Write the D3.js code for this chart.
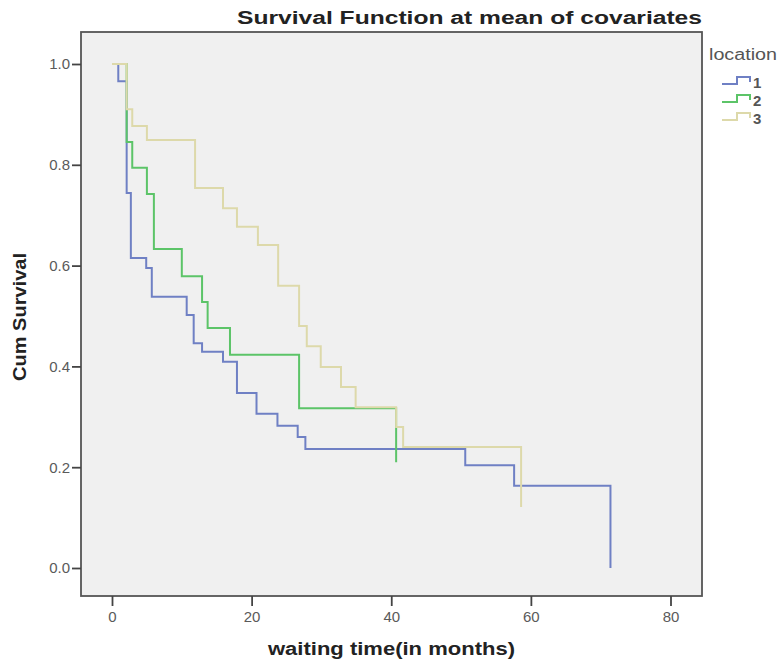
<!DOCTYPE html>
<html>
<head>
<meta charset="utf-8">
<script src="https://cdn.jsdelivr.net/npm/d3@7"></script>
<style>
  html, body { margin: 0; padding: 0; background: #ffffff; }
  svg { display: block; font-family: Arial, "Liberation Sans", sans-serif; }
</style>
</head>
<body>
<svg id="chart" width="779" height="664"></svg>
<script>
// Kaplan–Meier style survival steps per location group (time in months, cumulative survival)
const groups = ["1", "2", "3"];
const time1 = [0, 0.9, 2.1, 2.7, 4.9, 5.7, 10.7, 11.7, 12.9, 15.9, 17.9, 20.7, 23.7, 26.6, 27.7, 50.6, 57.6, 71.4];
const surv1 = [1, 0.966, 0.744, 0.615, 0.595, 0.538, 0.502, 0.446, 0.429, 0.409, 0.347, 0.306, 0.282, 0.26, 0.236, 0.204, 0.163, 0];
const time2 = [0, 2.1, 2.9, 5.0, 6.0, 10.0, 12.9, 13.7, 16.9, 26.8, 40.7];
const surv2 = [1, 0.845, 0.794, 0.742, 0.633, 0.579, 0.528, 0.476, 0.423, 0.317, 0.21];
const time3 = [0, 2.1, 2.9, 5.0, 11.9, 15.9, 17.9, 20.9, 23.8, 26.8, 27.9, 29.9, 32.8, 34.9, 40.7, 41.7, 58.6];
const surv3 = [1, 0.91, 0.877, 0.849, 0.754, 0.714, 0.677, 0.641, 0.56, 0.48, 0.44, 0.399, 0.359, 0.319, 0.28, 0.24, 0.121];
const xTicks = [0, 20, 40, 60, 80];
const yTicks = [0, 0.2, 0.4, 0.6, 0.8, 1.0];
const colors = ["#6f80c4", "#5cc468", "#ddd9aa"];

const series = [
  { name: groups[0], t: time1, s: surv1 },
  { name: groups[1], t: time2, s: surv2 },
  { name: groups[2], t: time3, s: surv3 }
];

const svg = d3.select("#chart");
const frame = { left: 81, right: 702, top: 32, bottom: 596 };

const x = d3.scaleLinear().domain([0, 80]).range([112, 670.5]);
const y = d3.scaleLinear().domain([0, 1]).range([568, 64]);

// plot background and frame
svg.append("rect")
  .attr("x", frame.left).attr("y", frame.top)
  .attr("width", frame.right - frame.left).attr("height", frame.bottom - frame.top)
  .attr("fill", "#f0f0f0").attr("stroke", "#555").attr("stroke-width", 1.8);

// axes
const yAxis = d3.axisLeft(y).tickValues(yTicks).tickFormat(d3.format(".1f")).tickSize(9).tickPadding(2);
const gy = svg.append("g").attr("transform", `translate(${frame.left},0)`).call(yAxis);
gy.select(".domain").remove();
gy.selectAll(".tick line").attr("stroke", "#444").attr("stroke-width", 1.8);
gy.selectAll(".tick text").attr("fill", "#5a5a5a").attr("font-size", 15);

const xAxis = d3.axisBottom(x).tickValues(xTicks).tickFormat(d3.format("d")).tickSize(10).tickPadding(5);
const gx = svg.append("g").attr("transform", `translate(0,${frame.bottom})`).call(xAxis);
gx.select(".domain").remove();
gx.selectAll(".tick line").attr("stroke", "#444").attr("stroke-width", 1.8);
gx.selectAll(".tick text").attr("fill", "#5a5a5a").attr("font-size", 15);

// survival step curves
const line = d3.line()
  .x(d => x(d[0]))
  .y(d => y(d[1]))
  .curve(d3.curveStepAfter);

series.forEach((sr, i) => {
  const pts = sr.t.map((t, k) => [t, sr.s[k]]);
  svg.append("path")
    .datum(pts)
    .attr("d", line)
    .attr("fill", "none")
    .attr("stroke", colors[i])
    .attr("stroke-width", 2);
});

// titles
svg.append("text")
  .attr("x", 237).attr("y", 24)
  .attr("textLength", 465).attr("lengthAdjust", "spacingAndGlyphs")
  .attr("font-size", 18).attr("font-weight", "bold").attr("fill", "#222")
  .text("Survival Function at mean of covariates");

svg.append("text")
  .attr("x", 268).attr("y", 655)
  .attr("textLength", 247).attr("lengthAdjust", "spacingAndGlyphs")
  .attr("font-size", 18).attr("font-weight", "bold").attr("fill", "#222")
  .text("waiting time(in months)");

svg.append("text")
  .attr("transform", `translate(26,${317 + 64}) rotate(-90)`)
  .attr("textLength", 128).attr("lengthAdjust", "spacingAndGlyphs")
  .attr("font-size", 19).attr("font-weight", "bold").attr("fill", "#222")
  .text("Cum Survival");

// legend
const lg = svg.append("g").attr("transform", "translate(709,0)");
lg.append("text")
  .attr("x", 0).attr("y", 60)
  .attr("textLength", 68).attr("lengthAdjust", "spacingAndGlyphs")
  .attr("font-size", 16).attr("fill", "#555")
  .text("location");

series.forEach((sr, i) => {
  const yy = 82 + i * 18;
  const row = lg.append("g").attr("transform", `translate(13,${yy})`);
  row.append("path")
    .attr("d", "M0,2 H15 V-5 H28 V0")
    .attr("fill", "none")
    .attr("stroke", colors[i])
    .attr("stroke-width", 2);
  row.append("text")
    .attr("x", 31).attr("y", 6)
    .attr("font-size", 15).attr("font-weight", "bold").attr("fill", "#555")
    .text(sr.name);
});
</script>
</body>
</html>
